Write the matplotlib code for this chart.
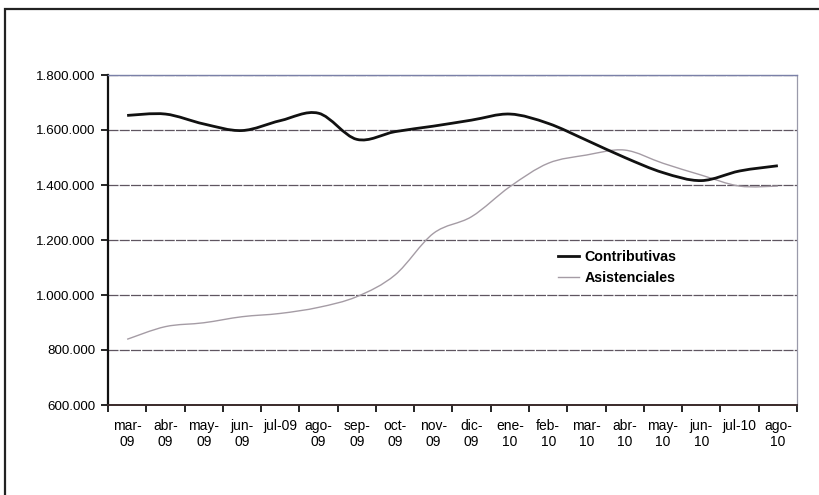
import numpy as np
import matplotlib.pyplot as plt
from matplotlib.path import Path
from matplotlib.patches import PathPatch, Rectangle
from matplotlib.lines import Line2D
from matplotlib.ticker import FuncFormatter

plt.rcParams['font.family'] = ['Liberation Sans', 'DejaVu Sans']

meses = ['mar-\n09', 'abr-\n09', 'may-\n09', 'jun-\n09', 'jul-09', 'ago-\n09',
         'sep-\n09', 'oct-\n09', 'nov-\n09', 'dic-\n09', 'ene-\n10', 'feb-\n10',
         'mar-\n10', 'abr-\n10', 'may-\n10', 'jun-\n10', 'jul-10', 'ago-\n10']

contributivas = [1653000, 1658000, 1622000, 1598000, 1634000, 1661000,
                 1566000, 1594000, 1614000, 1636000, 1658000, 1624000,
                 1563000, 1500000, 1445000, 1416000, 1451000, 1470000]

asistenciales = [839000, 885000, 899000, 921000, 933000, 955000,
                 994000, 1073000, 1224000, 1285000, 1394000, 1479000,
                 1509000, 1527000, 1479000, 1436000, 1396000, 1396000]


def curva_suave(x, y):
    # bezier cubico que pasa por cada punto (suavizado tipo hoja de calculo)
    p = np.column_stack([x, y]).astype(float)
    n = len(p)
    verts = [p[0]]
    codes = [Path.MOVETO]
    for i in range(n - 1):
        a = p[i - 1] if i > 0 else p[i]
        d = p[i + 2] if i + 2 < n else p[i + 1]
        c1 = p[i] + (p[i + 1] - a) / 6.0
        c2 = p[i + 1] - (d - p[i]) / 6.0
        verts += [c1, c2, p[i + 1]]
        codes += [Path.CURVE4] * 3
    return Path(verts, codes)


fig = plt.figure(figsize=(8.2, 4.95), dpi=100)
ax = fig.add_axes([108 / 820, 1 - 405 / 495, 689 / 820, 330 / 495])

# marco exterior
fig.patches.append(Rectangle((5 / 820, -0.05), 1.0, 1 - 9 / 495 + 0.05,
                             transform=fig.transFigure, fill=False,
                             edgecolor='#222222', linewidth=1.6))

x = np.arange(len(meses))
ax.set_xlim(-0.5, len(meses) - 0.5)
ax.set_ylim(600000, 1800000)

ax.add_patch(PathPatch(curva_suave(x, asistenciales), fill=False,
                       edgecolor='#a59ca5', linewidth=1.0, zorder=3))
ax.add_patch(PathPatch(curva_suave(x, contributivas), fill=False,
                       edgecolor='#111111', linewidth=2.0, zorder=4))

ax.set_yticks(np.arange(600000, 1800001, 200000))
ax.yaxis.set_major_formatter(FuncFormatter(lambda v, _: f'{int(v):,}'.replace(',', '.')))
ax.grid(axis='y', color='#5f5560', linewidth=0.9, linestyle=(0, (8, 1)), zorder=1)

ax.set_xticks(x)
ax.set_xticklabels(meses, fontsize=10, linespacing=1.15)
ax.set_xticks(np.arange(-0.5, len(meses)), minor=True)
ax.tick_params(axis='x', which='major', length=0, pad=10)
ax.tick_params(axis='x', which='minor', length=5, width=1.2, direction='out')
ax.tick_params(axis='y', length=5, width=1.2, labelsize=9.6, pad=4)

ax.spines['left'].set_linewidth(1.6)
ax.spines['left'].set_color('#111111')
ax.spines['bottom'].set_linewidth(1.4)
ax.spines['bottom'].set_color('#3a2a2a')
ax.spines['top'].set_color('#7a80a8')
ax.spines['top'].set_linewidth(1.0)
ax.spines['right'].set_color('#9a9aaa')
ax.spines['right'].set_linewidth(0.9)

handles = [Line2D([], [], color='#111111', linewidth=2.0),
           Line2D([], [], color='#a59ca5', linewidth=1.0)]
fig.legend(handles, ['Contributivas', 'Asistenciales'],
           loc='center left', bbox_to_anchor=(558 / 820, 1 - 267.5 / 495),
           frameon=False, borderpad=0, borderaxespad=0,
           handlelength=1.45, handletextpad=0.4, labelspacing=0.45,
           prop={'weight': 'bold', 'size': 10.3})

fig.savefig('out.png', dpi=100)
